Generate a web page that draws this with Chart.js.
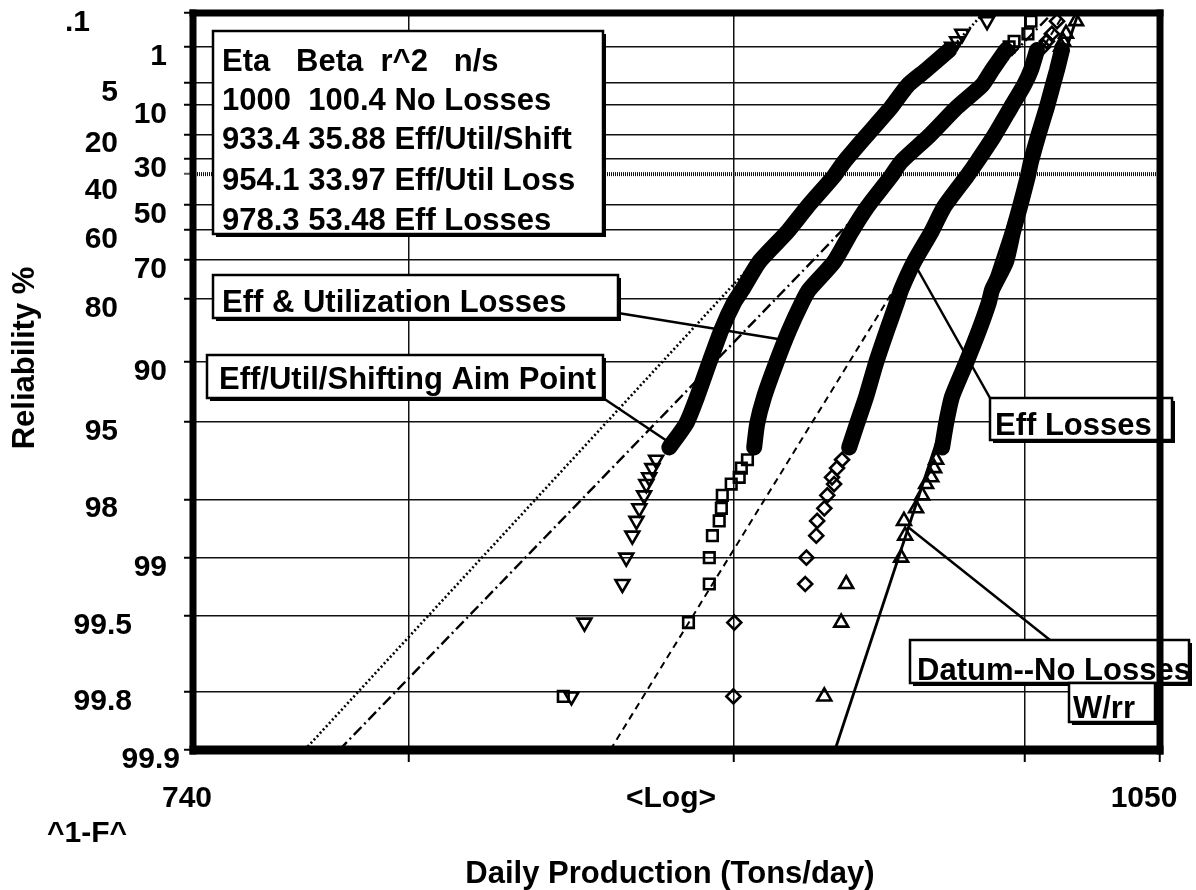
<!DOCTYPE html>
<html>
<head>
<meta charset="utf-8">
<title>Daily Production Weibull</title>
<script src="https://cdn.jsdelivr.net/npm/chart.js@4.4.0/dist/chart.umd.min.js"></script>
<style>
  html, body { margin:0; padding:0; background:#fff; }
  #wrap { width:1196px; height:890px; position:relative; }
</style>
</head>
<body>
<div id="wrap"><canvas id="chartWeibull"></canvas></div>
<script>
// plotting positions (reliability %)
const tailR = [99.81, 99.54, 99.27, 99.0, 98.7, 98.45, 98.2, 97.9, 97.6, 97.4, 97.1, 96.8];
const bandR = [96.3, 95.1, 93.3, 90.1, 85.7, 80.6, 77.9, 70.5, 60.7, 50.9, 37.6, 31.4, 20.6, 10.7, 5.43, 3.06, 1.19];
const topR  = [1.0, 0.73, 0.46, 0.19];

// daily production (tons/day) per series
const shiftTail = [848.6, 852.6, 864.4, 865.6, 867.5, 868.8, 869.7, 871.2, 871.9, 872.8, 873.8, 875.0];
const shiftBand = [879.2, 884.6, 888.1, 892.0, 895.9, 900.1, 902.7, 908.3, 917.5, 924.2, 933.2, 936.6, 944.1, 952.7, 958.5, 964.8, 972.9];
const shiftTop  = [973.9, 975.7, 977.5, 986.3];

const utilTail = [846.1, 885.3, 892.0, 892.0, 893.0, 895.2, 895.9, 896.2, 899.1, 901.7, 902.4, 904.4];
const utilBand = [906.6, 907.6, 909.9, 913.9, 918.2, 922.5, 924.8, 933.2, 939.0, 944.5, 952.7, 956.1, 965.8, 975.7, 984.6, 988.1, 993.1];
const utilTop  = [994.2, 996.0, 1001.0, 1002.1];

const effTail = [899.8, 900.1, 923.5, 923.9, 927.2, 927.5, 929.9, 930.9, 933.2, 932.5, 934.2, 935.9];
const effBand = [938.3, 941.0, 944.1, 947.5, 951.3, 954.7, 956.1, 960.6, 966.6, 971.1, 979.2, 982.7, 988.8, 994.9, 999.6, 1002.1, 1004.3];
const effTop  = [1006.5, 1007.9, 1009.7, 1011.6];

const noLossTail = [929.9, 935.6, 937.3, 956.1, 957.5, 957.1, 961.3, 963.4, 964.8, 966.6, 967.6, 968.3];
const noLossBand = [970.4, 971.8, 973.9, 978.9, 983.5, 987.0, 988.1, 993.1, 995.6, 998.1, 1001.0, 1002.1, 1004.7, 1007.9, 1010.1, 1011.6, 1013.4];
const noLossTop  = [1013.1, 1013.8, 1014.9, 1018.6];

// fitted lines, ends at 99.9 % and 0.1 %
const fitR = [99.9, 0.1];
const fitNoLoss = [933.5, 1019.4];
const fitEff    = [860.6, 1014.3];
const fitUtil   = [780.2, 1009.9];
const fitShift  = [770.5, 985.1];

// axes
const yGridR  = [0.1, 1, 5, 10, 20, 30, 50, 60, 70, 80, 90, 95, 98, 99, 99.5, 99.8, 99.9];
const yLabelR = [0.1, 1, 5, 10, 20, 30, 40, 50, 60, 70, 80, 90, 95, 98, 99, 99.5, 99.8, 99.9];
const yLabels = ['.1', '1', '5', '10', '20', '30', '40', '50', '60', '70', '80', '90', '95', '98', '99', '99.5', '99.8', '99.9'];
const xGrid = [800, 900, 1000, 1050];
const xMin = 740, xMax = 1050;

const FONT = '"Liberation Sans", Arial, sans-serif';

function weib(r){
  return Math.log(-Math.log(r / 100));
}

function pts(xs, rs){
  return xs.map((x, i) => ({x: x, y: weib(rs[i])}));
}

// label positions (right edge of each y label)
const yLabelRight = [90, 167, 118, 167, 118, 167, 118, 167, 118, 167, 118, 167, 118, 118, 167, 132, 132, 180];

const boxes = [
  {x1:213, y1:31, x2:603, y2:234, lines:[
    ['Eta   Beta  r^2   n/s', 222, 71],
    ['1000  100.4 No Losses', 222, 110],
    ['933.4 35.88 Eff/Util/Shift', 222, 149],
    ['954.1 33.97 Eff/Util Loss', 222, 190],
    ['978.3 53.48 Eff Losses', 222, 230]]},
  {x1:213, y1:275, x2:618, y2:318, lines:[['Eff & Utilization Losses', 222, 312]]},
  {x1:207, y1:355, x2:603, y2:398, lines:[['Eff/Util/Shifting Aim Point', 219, 389]]},
  {x1:990, y1:398, x2:1172, y2:440, lines:[['Eff Losses', 995, 435]]},
  {x1:910, y1:640, x2:1189, y2:683, lines:[['Datum--No Losses', 917, 680]]},
  {x1:1069, y1:683, x2:1155, y2:722, lines:[['W/rr', 1073, 718]]}
];

const leaders = [
  [618, 313, 778, 339],
  [603, 398, 670, 443],
  [990, 398, 918, 270],
  [1050, 640, 908, 527]
];

function tulis(c, s, x, y, size, align){
  c.font = 'bold ' + size + 'px ' + FONT;
  c.textAlign = align || 'left';
  c.textBaseline = 'alphabetic';
  c.fillStyle = '#000';
  c.fillText(s, x, y);
}

function kotak(c, b){
  const w = b.x2 - b.x1, h = b.y2 - b.y1;
  c.fillStyle = '#fff';
  c.fillRect(b.x1, b.y1, w, h);
  c.lineWidth = 2.5;
  c.strokeStyle = '#000';
  c.strokeRect(b.x1, b.y1, w, h);
  c.fillStyle = '#000';
  c.fillRect(b.x1 + 3, b.y2, w, 3);
  c.fillRect(b.x2, b.y1 + 3, 3, h);
  b.lines.forEach(l => tulis(c, l[0], l[1], l[2], 31, 'left'));
}

const annotasi = {
  id: 'annotasi',
  afterDatasetsDraw(chart){
    const c = chart.ctx;
    c.save();
    c.strokeStyle = '#000';
    c.lineWidth = 2.5;
    leaders.forEach(l => {
      c.beginPath();
      c.moveTo(l[0], l[1]);
      c.lineTo(l[2], l[3]);
      c.stroke();
    });
    boxes.forEach(b => kotak(c, b));
    c.restore();
  },
  afterDraw(chart){
    const c = chart.ctx;
    const a = chart.chartArea;
    const ys = chart.scales.y;
    c.save();
    // heavy frame
    c.fillStyle = '#000';
    c.fillRect(a.left - 3.5, a.top - 3.5, a.right - a.left + 7, 7);
    c.fillRect(a.left - 3.5, a.top - 3.5, 7, a.bottom - a.top + 8);
    c.fillRect(a.right - 3.5, a.top - 3.5, 7, a.bottom - a.top + 8);
    c.fillRect(a.left - 3.5, a.bottom - 4.5, a.right - a.left + 7, 9);

    // y labels
    yLabels.forEach((t, i) => {
      const py = ys.getPixelForValue(weib(yLabelR[i]));
      tulis(c, t, yLabelRight[i], py + 18, 30, 'right');
    });
    // x labels
    tulis(c, '740', 187, 807, 30, 'center');
    tulis(c, '<Log>', 671, 807, 30, 'center');
    tulis(c, '1050', 1144, 807, 30, 'center');
    tulis(c, '^1-F^', 47, 842, 30, 'left');
    tulis(c, 'Daily Production (Tons/day)', 670, 883, 31, 'center');
    c.translate(34, 358);
    c.rotate(-Math.PI / 2);
    tulis(c, 'Reliability %', 0, 0, 31, 'center');
    c.restore();
  }
};

function band(xs){
  return {data: pts(xs, bandR), showLine: true, borderColor: '#000', borderWidth: 16,
          borderJoinStyle: 'round', borderCapStyle: 'round', tension: 0.2, pointRadius: 0};
}

function marks(tail, top, style, rot, rad){
  return {data: pts(tail, tailR).concat(pts(top, topR)), showLine: false,
          pointStyle: style, rotation: rot, pointRadius: rad,
          pointBorderColor: '#000', pointBackgroundColor: 'rgba(0,0,0,0)', pointBorderWidth: 2.6};
}

function fit(xs, dash, width){
  return {data: pts(xs, fitR), showLine: true, borderColor: '#000', borderWidth: width,
          borderDash: dash, pointRadius: 0};
}

const chart = new Chart(document.getElementById('chartWeibull'), {
  type: 'scatter',
  data: {
    datasets: [
      band(shiftBand), marks(shiftTail, shiftTop, 'triangle', 180, 8),
      band(utilBand), marks(utilTail, utilTop, 'rect', 0, 7.5),
      band(effBand), marks(effTail, effTop, 'rectRot', 0, 7),
      band(noLossBand), marks(noLossTail, noLossTop, 'triangle', 0, 8),
      fit(fitNoLoss, [], 2.8),
      fit(fitEff, [7, 5], 2),
      fit(fitUtil, [11, 4, 2, 4], 2.4),
      fit(fitShift, [2, 2.5], 2.6),
      {data: [{x: xMin, y: 0}, {x: xMax, y: 0}], showLine: true, borderColor: '#111',
       borderWidth: 4, borderDash: [1, 1], pointRadius: 0}
    ]
  },
  options: {
    responsive: true,
    maintainAspectRatio: false,
    animation: false,
    layout: {padding: {left: 0, top: 13, right: 36, bottom: 0}},
    plugins: {legend: {display: false}, tooltip: {enabled: false}},
    scales: {
      x: {
        type: 'logarithmic', min: xMin, max: xMax,
        afterBuildTicks: s => { s.ticks = xGrid.map(v => ({value: v})); },
        afterFit: s => { s.height = 140; },
        ticks: {display: false},
        grid: {color: '#111', lineWidth: 1.5, tickLength: 12, tickColor: '#000', tickWidth: 2},
        border: {display: false}
      },
      y: {
        type: 'linear', min: weib(99.9), max: weib(0.1),
        afterBuildTicks: s => { s.ticks = yGridR.map(r => ({value: weib(r)})).concat([{value: 0}]); },
        afterFit: s => { s.width = 193; },
        ticks: {display: false},
        grid: {
          color: ctx => (ctx.tick && ctx.tick.value === 0) ? 'rgba(0,0,0,0)' : '#111',
          tickColor: ctx => (ctx.tick && ctx.tick.value === 0) ? '#555' : '#000',
          lineWidth: 1.5, tickLength: 9, tickWidth: 2
        },
        border: {display: false}
      }
    }
  },
  plugins: [annotasi]
});
</script>
</body>
</html>
